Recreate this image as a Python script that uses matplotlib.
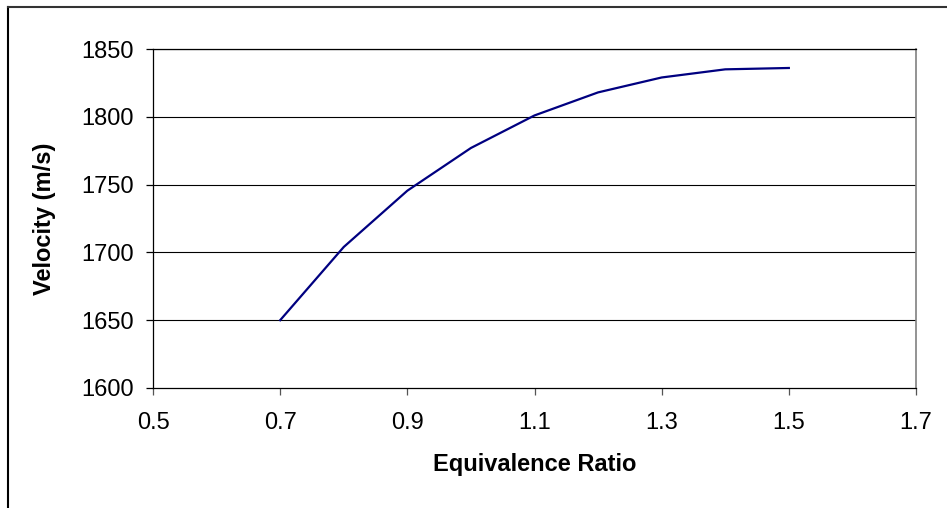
import matplotlib
matplotlib.use("Agg")
import matplotlib.pyplot as plt
from matplotlib.lines import Line2D

# Datos
ratio = [0.7, 0.8, 0.9, 1.0, 1.1, 1.2, 1.3, 1.4, 1.5]
velocidad = [1650, 1704, 1745.5, 1777, 1801, 1818, 1829, 1835, 1836]
xticks = [0.5, 0.7, 0.9, 1.1, 1.3, 1.5, 1.7]
yticks = [1600, 1650, 1700, 1750, 1800, 1850]

plt.rcParams["font.family"] = ["Liberation Sans", "DejaVu Sans"]

W, H = 947, 508
fig = plt.figure(figsize=(W / 100, H / 100), dpi=100)
ax = fig.add_axes([153 / W, 1 - 388 / H, (916 - 153) / W, (388 - 49) / H])

# Rejilla horizontal estilo Excel
for y in yticks[1:]:
    ax.axhline(y, color="black", lw=0.8, zorder=1)

ax.plot(ratio, velocidad, color="#000080", lw=1.6, zorder=3)

ax.set_xlim(0.5, 1.7)
ax.set_ylim(1600, 1850)
ax.set_xticks(xticks)
ax.set_xticklabels([f"{v:.1f}" for v in xticks])
ax.set_yticks(yticks)

for s in ["left", "bottom", "top"]:
    ax.spines[s].set_color("black")
    ax.spines[s].set_linewidth(0.9)
ax.spines["right"].set_color("#808080")
ax.spines["right"].set_linewidth(1.2)

ax.tick_params(axis="y", direction="out", length=5, width=0.9, labelsize=17, pad=9)
ax.tick_params(axis="x", direction="out", length=5, width=0.9, color="#555555",
               labelsize=17, pad=12)

ax.set_xlabel("Equivalence Ratio", fontsize=17, fontweight="bold", labelpad=14)
ax.set_ylabel("Velocity (m/s)", fontsize=17, fontweight="bold", labelpad=18)

# Borde exterior del area del grafico
fig.add_artist(Line2D([8 / W, 8 / W], [0, 1 - 7 / H], color="black", lw=1.5))
fig.add_artist(Line2D([8 / W, 1], [1 - 7 / H, 1 - 7 / H], color="#333333", lw=1.5))

fig.savefig("out.png", dpi=100)
